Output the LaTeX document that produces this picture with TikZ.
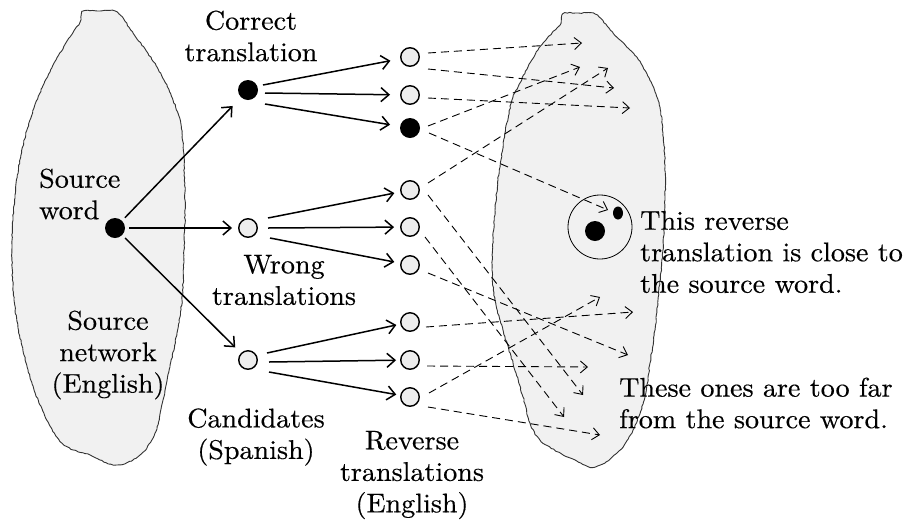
\documentclass[tikz,border=0pt]{standalone}
\usetikzlibrary{arrows.meta,decorations.pathmorphing,calc,shapes.geometric}
\definecolor{regionfill}{gray}{0.945}
\definecolor{nodefill}{gray}{0.93}
\definecolor{outline}{gray}{0.2}
% a slightly widened, slightly heavier Latin Modern for the labels
\font\lblfont="[lmroman10-regular]:mapping=tex-text;extend=1.04;embolden=0.4" at 27pt
\begin{document}
\begin{tikzpicture}[x=1pt,y=-1pt,
  region/.style={fill=regionfill,draw=outline,line width=0.9pt,decorate,
    decoration={random steps,segment length=2.5pt,amplitude=0.5pt}},
  full/.style={circle,fill=black,inner sep=0pt,minimum size=20pt},
  hollow/.style={circle,draw=black,fill=nodefill,line width=1.4pt,inner sep=0pt,minimum size=18.5pt},
  sol/.style={-{Straight Barb[length=8pt,width=14pt]},line width=1.5pt},
  dsh/.style={-{Straight Barb[length=7pt,width=12pt]},line width=0.9pt,dash pattern=on 8pt off 5pt},
  lbl/.style={font=\fontsize{27}{31.5}\selectfont\lblfont,inner sep=0pt,align=center},
]
\useasboundingbox (0,0) rectangle (904,523);
\pgfmathsetseed{3}

% source network region (English)
\path[region] plot[smooth cycle,tension=0.6] coordinates {
  (83,12) (100,11) (117,12) (133,33) (157,67) (173,100) (182,133) (185,200)
  (184,250) (182,300) (177,333) (170,367) (163,400) (155,433) (140,455)
  (116,465) (90,455) (62,443) (40,405) (24,355) (14,300) (12,245) (15,195)
  (21,155) (30,120) (42,88) (56,60) (70,37) (80,22)};

% target region for the reverse translations
\path[region] plot[smooth cycle,tension=0.6] coordinates {
  (563,14) (579,13) (595,14) (613,33) (630,50) (643,67) (658,100) (663,133)
  (665,167) (665,200) (663,250) (658,300) (655,330) (650,363) (645,397)
  (633,430) (618,452) (595,467) (575,460) (558,452) (540,440) (530,423)
  (523,397) (513,363) (503,330) (495,300) (492,270) (493,240) (495,210)
  (498,180) (500,167) (505,133) (512,100) (518,87) (528,67) (538,50)
  (552,33) (560,25)};

% neighbourhood of the source word
\node[circle,draw=black,line width=0.8pt,minimum size=64pt,inner sep=0pt] (ring) at (600,227) {};
\node[full] (near) at (595,231) {};
\node[ellipse,fill=black,inner sep=0pt,minimum width=10pt,minimum height=13pt] (hit) at (618,213) {};

% source word and candidates
\node[full] (src) at (115,228) {};
\node[full] (cor) at (248,90) {};
\node[hollow] (wc) at (248,228) {};
\node[hollow] (cand) at (248,360) {};

% reverse translations
\node[hollow] (r1) at (410,57) {};
\node[hollow] (r2) at (410,95) {};
\node[full] (r3) at (410,128) {};
\node[hollow] (r4) at (410,190) {};
\node[hollow] (r5) at (410,227) {};
\node[hollow] (r6) at (410,265) {};
\node[hollow] (r7) at (410,322) {};
\node[hollow] (r8) at (410,360) {};
\node[hollow] (r9) at (410,397) {};

% translation arrows
\draw[sol,shorten <=4pt,shorten >=12pt] (src) -- (cor);
\draw[sol,shorten <=4pt,shorten >=6pt] (src) -- (wc);
\draw[sol,shorten <=4pt,shorten >=8pt] (src) -- (cand);

\draw[sol,shorten >=10pt] ($(cor)+(15,-5)$) -- (r1);
\draw[sol,shorten >=10pt] ($(cor)+(17,3)$) -- (r2);
\draw[sol,shorten >=10pt] ($(cor)+(17,14)$) -- (r3);

\draw[sol,shorten >=6pt] ($(wc)+(20,-10)$) -- (r4);
\draw[sol,shorten >=6pt] ($(wc)+(20,0)$) -- (r5);
\draw[sol,shorten >=6pt] ($(wc)+(22,10)$) -- (r6);

\draw[sol,shorten >=4pt] ($(cand)+(19,-7)$) -- (r7);
\draw[sol,shorten >=4pt] ($(cand)+(21,2)$) -- (r8);
\draw[sol,shorten >=4pt] ($(cand)+(21,12)$) -- (r9);

% where the reverse translations land
\coordinate (e1) at (582,43);
\coordinate (e2) at (614,88);
\coordinate (e3) at (630,108);
\coordinate (e4) at (580,67);
\coordinate (e5) at (608,210);
\coordinate (e6) at (608,68);
\coordinate (e7) at (583,395);
\coordinate (e8) at (564,417);
\coordinate (e9) at (628,355);
\coordinate (e10) at (633,312);
\coordinate (e11) at (588,367);
\coordinate (e12) at (600,297);
\coordinate (e13) at (600,435);

\draw[dsh] ($(r1)+(18,-4)$) -- (e1);
\draw[dsh] ($(r1)+(18,12)$) -- (e2);
\draw[dsh] ($(r2)+(18,3)$) -- (e3);
\draw[dsh] ($(r3)+(18,-2)$) -- (e4);
\draw[dsh] ($(r3)+(19,5)$) -- (e5);
\draw[dsh] ($(r4)+(18,-7)$) -- (e6);
\draw[dsh] ($(r4)+(18,5)$) -- (e7);
\draw[dsh] ($(r5)+(15,10)$) -- (e8);
\draw[dsh] ($(r6)+(18,8)$) -- (e9);
\draw[dsh] ($(r7)+(16,5)$) -- (e10);
\draw[dsh] ($(r8)+(17,6)$) -- (e11);
\draw[dsh] ($(r9)+(19,-4)$) -- (e12);
\draw[dsh] ($(r9)+(18,10)$) -- (e13);

% labels
\node[lbl] (tcor) at (251,36) {Correct\\translation};
\node[lbl,align=left,anchor=west] (tsrc) at (39,194) {Source\\word};
\node[lbl] (tnet) at (108,355) {Source\\network\\(English)};
\node[lbl] (twrong) at (284,280) {Wrong\\translations};
\node[lbl] (tcand) at (256,437) {Candidates\\(Spanish)};
\node[lbl] (trev) at (412,475) {Reverse\\translations\\(English)};
\node[lbl,align=left,anchor=west] (tclose) at (640,252) {This reverse\\translation is close to\\the source word.};
\node[lbl,align=left,anchor=west] (tfar) at (619,403) {These ones are too far\\from the source word.};
\end{tikzpicture}
\end{document}
